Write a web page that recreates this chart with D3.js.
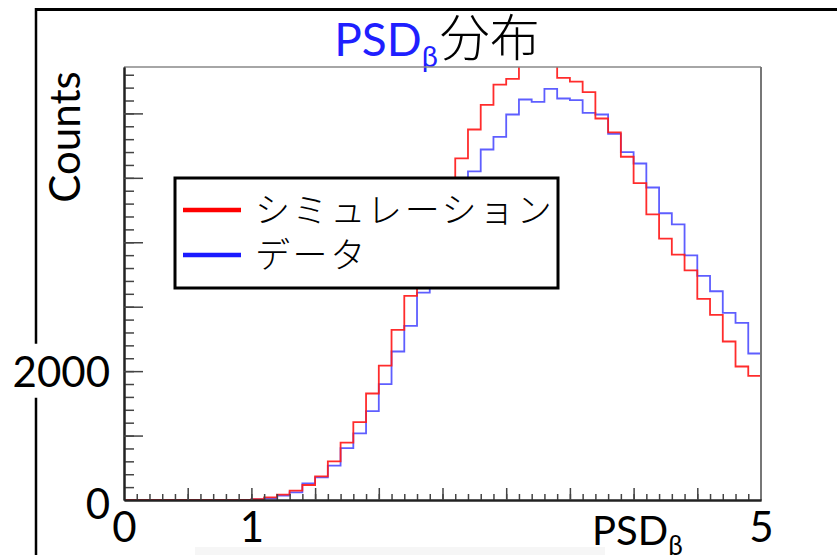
<!DOCTYPE html>
<html>
<head>
<meta charset="utf-8">
<script src="https://cdn.jsdelivr.net/npm/d3@7/dist/d3.min.js"></script>
<style>
  html, body { margin: 0; padding: 0; background: #fff; }
  svg { display: block; }
  text { font-family: Lato, "Noto Sans", "Noto Sans CJK JP", sans-serif; }
  .jp { font-family: "Noto Sans CJK JP", "Noto Sans", sans-serif; font-weight: 300; }
</style>
</head>
<body>
<svg id="chart" width="837" height="555"></svg>
<script>
// PSD_beta histograms, 50 bins of width 0.1 over [0, 5]
const binLo = [0.0,0.1,0.2,0.3,0.4,0.5,0.6,0.7,0.8,0.9,
               1.0,1.1,1.2,1.3,1.4,1.5,1.6,1.7,1.8,1.9,
               2.0,2.1,2.2,2.3,2.4,2.5,2.6,2.7,2.8,2.9,
               3.0,3.1,3.2,3.3,3.4,3.5,3.6,3.7,3.8,3.9,
               4.0,4.1,4.2,4.3,4.4,4.5,4.6,4.7,4.8,4.9];
const xMax = 5;

// Simulation counts (red)
const simCounts = [0,0,0,0,0,0,0,0,0,0,
                   15,41,83,145,233,367,600,889,1209,1653,
                   2087,2640,3167,3700,4250,4800,5301,5750,6133,6448,
                   6536,6850,6950,6820,6552,6494,6329,5921,5704,5327,
                   4918,4433,4056,3808,3565,3120,2873,2460,2072,1927];

// Measured data counts (blue)
const dataCounts = [0,0,0,0,0,0,0,0,0,0,
                    8,25,67,119,258,351,532,806,1033,1380,
                    1798,2305,2702,3219,3690,4160,4630,5100,5440,5637,
                    5983,6216,6179,6381,6231,6205,6009,5983,5683,5399,
                    5222,4850,4450,4278,3798,3477,3240,2904,2749,2274];

const seriesNames = ["シミュレーション", "データ"];
const seriesColors = ["#ff1a1a", "#4d4dff"];

const xMajorTicks = [0.5,1.0,1.5,2.0,2.5,3.0,3.5,4.0,4.5];
const xMinorTicks = d3.range(1, 50).map(i => i / 10);
const xTickLabels = [0, 1, 5];
const yMajorTicks = [1000,2000,3000,4000,5000,6000];
const yMinorTicks = d3.range(1, 34).map(i => i * 200);
const yTickLabels = [0, 2000];
const yMax = 6720;

const svg = d3.select("#chart");
const W = 837, H = 555;
const plot = { left: 124, right: 761, top: 67, bottom: 500 };

const x = d3.scaleLinear().domain([0, xMax]).range([plot.left, plot.right]);
const y = d3.scaleLinear().domain([0, yMax]).range([plot.bottom, plot.top]);

// faint shade at the bottom edge
svg.append("rect").attr("x", 195).attr("y", 547).attr("width", 410).attr("height", 8)
  .attr("fill", "#f6f6f6");

// outer pad frame (top and left)
svg.append("line").attr("x1", 36).attr("x2", W).attr("y1", 9.5).attr("y2", 9.5)
  .attr("stroke", "#000").attr("stroke-width", 3);
svg.append("line").attr("x1", 36).attr("x2", 36).attr("y1", 8).attr("y2", H)
  .attr("stroke", "#000").attr("stroke-width", 2.5);

// title
const title = svg.append("text").attr("x", 437).attr("y", 56)
  .attr("text-anchor", "middle").style("font-size", "46px");
title.append("tspan").attr("fill", "#1f1fff").text("PSD");
title.append("tspan").attr("fill", "#1f1fff").attr("dy", 11).style("font-size", "29px").text("β");
title.append("tspan").attr("dy", -11).attr("dx", 2).attr("class", "jp").attr("fill", "#000")
  .style("font-size", "50px").text("分布");

// clip for histograms
svg.append("clipPath").attr("id", "plotClip").append("rect")
  .attr("x", plot.left).attr("y", plot.top)
  .attr("width", plot.right - plot.left).attr("height", plot.bottom - plot.top);

const line = d3.line().curve(d3.curveStepAfter)
  .x(d => x(d[0])).y(d => y(d[1]));

function histPoints(counts) {
  const pts = binLo.map((b, i) => [b, counts[i]]);
  pts.push([xMax, counts[counts.length - 1]]);
  return pts;
}

const hg = svg.append("g").attr("clip-path", "url(#plotClip)");
hg.append("path").attr("d", line(histPoints(dataCounts)))
  .attr("fill", "none").attr("stroke", seriesColors[1]).attr("stroke-width", 1.8)
  .attr("stroke-opacity", 0.9);
hg.append("path").attr("d", line(histPoints(simCounts)))
  .attr("fill", "none").attr("stroke", seriesColors[0]).attr("stroke-width", 1.8)
  .attr("stroke-opacity", 0.92);

// frame top and right
svg.append("line").attr("x1", plot.left).attr("x2", plot.right)
  .attr("y1", plot.top).attr("y2", plot.top).attr("stroke", "#888").attr("stroke-width", 1.3);
svg.append("line").attr("x1", plot.right).attr("x2", plot.right)
  .attr("y1", plot.top).attr("y2", plot.bottom).attr("stroke", "#777").attr("stroke-width", 2);

// x-axis ticks (inward)
const gxMinor = svg.append("g").attr("transform", `translate(0,${plot.bottom})`)
  .call(d3.axisBottom(x).tickValues(xMinorTicks).tickSize(-6).tickFormat("").tickSizeOuter(0));
const gxMajor = svg.append("g").attr("transform", `translate(0,${plot.bottom})`)
  .call(d3.axisBottom(x).tickValues(xMajorTicks).tickSize(-12).tickFormat("").tickSizeOuter(0));
[gxMinor, gxMajor].forEach(g => {
  g.select(".domain").attr("stroke", "#222").attr("stroke-width", 2);
  g.selectAll(".tick line").attr("stroke", "#444").attr("stroke-width", 1.5);
});

// y-axis ticks (inward)
const gyMinor = svg.append("g").attr("transform", `translate(${plot.left},0)`)
  .call(d3.axisLeft(y).tickValues(yMinorTicks).tickSize(-10).tickFormat("").tickSizeOuter(0));
const gyMajor = svg.append("g").attr("transform", `translate(${plot.left},0)`)
  .call(d3.axisLeft(y).tickValues(yMajorTicks).tickSize(-19).tickFormat("").tickSizeOuter(0));
[gyMinor, gyMajor].forEach(g => {
  g.select(".domain").attr("stroke", "#222").attr("stroke-width", 2);
  g.selectAll(".tick line").attr("stroke", "#444").attr("stroke-width", 1.5);
});

// x tick labels
const gxLab = svg.append("g").attr("transform", `translate(0,${plot.bottom})`)
  .call(d3.axisBottom(x).tickValues(xTickLabels).tickSize(0).tickPadding(0).tickFormat(d3.format("d")));
gxLab.select(".domain").remove();
gxLab.selectAll("text").attr("y", 42).attr("dy", 0).attr("fill", "#000")
  .style("font-size", "42px").style("font-family", "Lato, sans-serif");

// y tick labels, with a white backing box
const gyLab = svg.append("g").attr("transform", `translate(110,0)`)
  .call(d3.axisLeft(y).tickValues(yTickLabels).tickSize(0).tickPadding(0).tickFormat(d3.format("d")));
gyLab.select(".domain").remove();
gyLab.selectAll("text").attr("x", 0).attr("dy", "0.36em").attr("fill", "#000")
  .style("font-size", "42px").style("font-family", "Lato, sans-serif");
gyLab.selectAll(".tick").each(function(d) {
  if (d === 0) return;
  const t = d3.select(this).select("text");
  const bb = t.node().getBBox();
  d3.select(this).insert("rect", "text")
    .attr("x", bb.x - 4).attr("y", bb.y - 2).attr("width", bb.width + 8).attr("height", bb.height + 4)
    .attr("fill", "#fff");
});
gyLab.selectAll(".tick").filter(d => d === 0).attr("transform", `translate(0,${y(0) + 4})`);

// axis titles
const xt = svg.append("text").attr("x", 592).attr("y", 545).style("font-size", "40px").attr("fill", "#000");
xt.append("tspan").text("PSD");
xt.append("tspan").attr("dy", 10).style("font-size", "26px").text("β");

svg.append("text").attr("transform", "translate(80,137) rotate(-90)")
  .attr("text-anchor", "middle").style("font-size", "42px").attr("fill", "#000").text("Counts");

// legend
const lg = svg.append("g");
lg.append("rect").attr("x", 175).attr("y", 178).attr("width", 383).attr("height", 110)
  .attr("fill", "#fff").attr("stroke", "#000").attr("stroke-width", 3);
const legendRows = [210, 255];
seriesNames.forEach((name, i) => {
  lg.append("line").attr("x1", 183).attr("x2", 241)
    .attr("y1", legendRows[i]).attr("y2", legendRows[i])
    .attr("stroke", i === 0 ? "#ff0000" : "#1a1aff").attr("stroke-width", 4.5);
  lg.append("text").attr("class", "jp").attr("x", 255).attr("y", legendRows[i])
    .attr("dy", "0.36em").style("font-size", "35px").style("letter-spacing", "2.6px")
    .attr("fill", "#000").text(name);
});
</script>
</body>
</html>
